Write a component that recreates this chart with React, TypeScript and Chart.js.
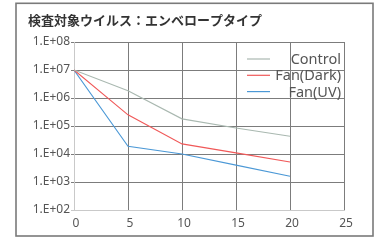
import React, { useEffect, useRef } from 'react';
import { Chart, registerables } from 'chart.js';

Chart.register(...registerables);

const titleText = '検査対象ウイルス：エンベロープタイプ';
const xValues = [0, 5, 10, 15, 20];
const controlValues = [1e7, 1.8e6, 1.8e5, 8.5e4, 4.3e4];
const fanDarkValues = [1e7, 2.5e5, 2.3e4, 1.1e4, 5.2e3];
const fanUvValues = [1e7, 1.9e4, 1.0e4, 4.0e3, 1.6e3];
const seriesNames = ['Control', 'Fan(Dark)', 'Fan(UV)'];
const seriesColors = ['#a9b8b0', '#f05858', '#4b98d6'];
const yTickValues = [1e2, 1e3, 1e4, 1e5, 1e6, 1e7, 1e8];
const yTickLabels = ['1.E+02', '1.E+03', '1.E+04', '1.E+05', '1.E+06', '1.E+07', '1.E+08'];
const xTickValues = [0, 5, 10, 15, 20, 25];

const GRID = '#7c7c7c';
const AXIS = '#c9c9c9';

const framePlugin = {
  id: 'frameTitleLegend',
  beforeDraw(chart: any) {
    const ctx = chart.ctx;
    ctx.save();
    ctx.fillStyle = '#ffffff';
    ctx.fillRect(0, 0, chart.width, chart.height);
    ctx.strokeStyle = '#7a7a7a';
    ctx.lineWidth = 1.6;
    ctx.strokeRect(16, 3.3, 357, 232.7);
    ctx.fillStyle = '#333333';
    ctx.font = 'bold 13px "Noto Sans CJK JP"';
    ctx.textBaseline = 'middle';
    ctx.textAlign = 'left';
    ctx.fillText(titleText, 28, 20);
    ctx.restore();
  },
  afterDraw(chart: any) {
    const ctx = chart.ctx;
    ctx.save();
    chart.data.datasets.forEach((ds: any, i: number) => {
      const y = 59 + i * 16.3;
      ctx.strokeStyle = ds.borderColor;
      ctx.lineWidth = 1.2;
      ctx.beginPath();
      ctx.moveTo(247, y);
      ctx.lineTo(270, y);
      ctx.stroke();
      ctx.fillStyle = '#555555';
      ctx.font = '14.5px "Noto Sans"';
      ctx.textAlign = 'right';
      ctx.textBaseline = 'alphabetic';
      ctx.fillText(ds.label, 341, y + 5);
    });
    ctx.restore();
  },
};

export default function App() {
  const ref = useRef<HTMLCanvasElement | null>(null);
  useEffect(() => {
    if (!ref.current) return;
    const mk = (vals: number[]) => xValues.map((x, i) => ({ x, y: vals[i] }));
    const allSeries = [controlValues, fanDarkValues, fanUvValues];
    const chart = new Chart(ref.current, {
      type: 'line',
      data: {
        datasets: allSeries.map((vals, i) => ({
          label: seriesNames[i],
          data: mk(vals),
          borderColor: seriesColors[i],
          backgroundColor: seriesColors[i],
          borderWidth: 1.1,
          pointRadius: 0,
          tension: 0,
          fill: false,
        })),
      },
      options: {
        animation: false,
        responsive: false,
        maintainAspectRatio: false,
        layout: { padding: { left: 0, top: 42, right: 44, bottom: 0 } },
        plugins: { legend: { display: false }, title: { display: false }, tooltip: { enabled: false } },
        scales: {
          x: {
            type: 'linear',
            min: 0,
            max: 25,
            afterBuildTicks: (s: any) => {
              s.ticks = xTickValues.map((v) => ({ value: v }));
            },
            afterFit: (s: any) => {
              s.height = 36;
            },
            ticks: {
              color: '#555555',
              font: { family: '"Noto Sans"', size: 12 },
              padding: 6,
              labelOffset: 2,
              maxRotation: 0,
            },
            grid: {
              drawTicks: false,
              color: (c: any) => (c.tick && c.tick.value === 0 ? AXIS : GRID),
              lineWidth: 1,
            },
            border: { color: AXIS, width: 1 },
          },
          y: {
            type: 'logarithmic',
            min: 100,
            max: 1e8,
            afterBuildTicks: (s: any) => {
              s.ticks = yTickValues.map((v) => ({ value: v }));
            },
            afterFit: (s: any) => {
              s.width = 74;
            },
            ticks: {
              color: '#555555',
              font: { family: '"Noto Sans"', size: 12 },
              padding: 1,
              callback: (v: any) => {
                const idx = yTickValues.findIndex((t) => Math.abs(Math.log10(t) - Math.log10(Number(v))) < 1e-6);
                return idx >= 0 ? yTickLabels[idx] : '';
              },
            },
            grid: {
              drawTicks: true,
              tickLength: 3,
              color: (c: any) => (c.tick && c.tick.value === 100 ? AXIS : GRID),
              lineWidth: 1,
            },
            border: { color: AXIS, width: 1 },
          },
        },
      },
      plugins: [framePlugin],
    });
    return () => chart.destroy();
  }, []);
  return (
    <div style={{ position: 'fixed', left: 0, top: 0, width: 388, height: 246, background: '#fff' }}>
      <canvas ref={ref} width={388} height={246} style={{ width: 388, height: 246, display: 'block' }} />
    </div>
  );
}
